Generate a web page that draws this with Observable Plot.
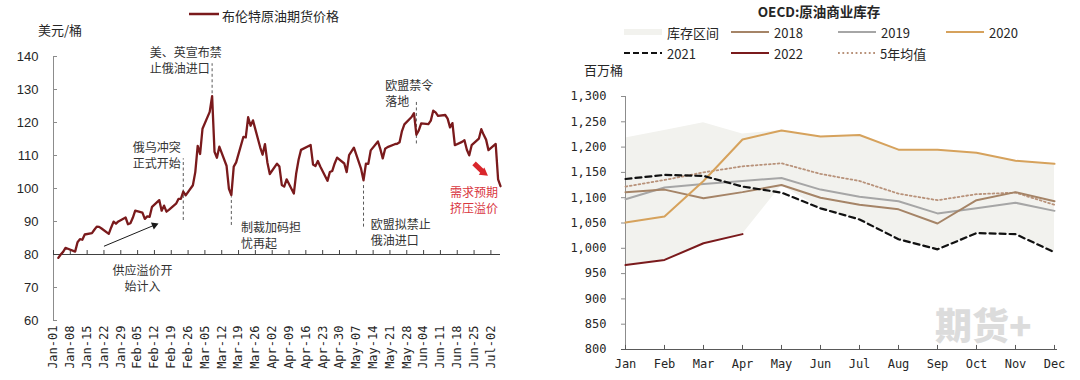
<!DOCTYPE html>
<html><head><meta charset="utf-8">
<script src="https://cdn.jsdelivr.net/npm/d3@7"></script>
<script src="https://cdn.jsdelivr.net/npm/@observablehq/plot@0.6"></script>
<style>
body{margin:0;background:#fff;}
#wrap{position:relative;width:1080px;height:380px;overflow:hidden;font-family:"Noto Sans CJK SC","Noto Sans",sans-serif;color:#262626;}
.abs{position:absolute;white-space:nowrap;line-height:1;}
.panel{position:absolute;top:0;}
</style></head><body><div id="wrap"></div>
<script>
// ---------- LEFT: Brent futures ----------
const year = 2022;
const priceDays = ["01-03","01-04","01-05","01-06","01-07","01-10","01-11","01-12","01-13","01-14","01-17","01-18","01-19","01-20","01-21","01-24","01-25","01-26","01-27","01-28","01-31",
"02-01","02-02","02-03","02-04","02-07","02-08","02-09","02-10","02-11","02-14","02-15","02-16","02-17","02-18","02-21","02-22","02-23","02-24","02-25","02-28",
"03-01","03-02","03-03","03-04","03-07","03-08","03-09","03-10","03-11","03-14","03-15","03-16","03-17","03-18","03-21","03-22","03-23","03-24","03-25","03-28","03-29","03-30","03-31",
"04-01","04-04","04-05","04-06","04-07","04-08","04-11","04-12","04-13","04-14","04-18","04-19","04-20","04-21","04-22","04-25","04-26","04-27","04-28","04-29",
"05-02","05-03","05-04","05-05","05-06","05-09","05-10","05-11","05-12","05-13","05-16","05-17","05-18","05-19","05-20","05-23","05-24","05-25","05-26","05-27","05-30","05-31",
"06-01","06-02","06-03","06-06","06-07","06-08","06-09","06-10","06-13","06-14","06-15","06-16","06-17","06-20","06-21","06-22","06-23","06-24","06-27","06-28","06-29","06-30",
"07-01","07-04","07-05","07-06"];
const brentPrice = [78.98,80.00,80.80,81.99,81.75,80.87,83.72,84.67,84.47,86.06,86.48,87.51,88.44,88.38,87.89,86.27,88.20,89.96,89.34,90.03,91.21,
89.16,89.47,91.11,93.27,92.69,90.78,91.55,91.41,94.44,96.48,93.28,94.81,92.97,93.54,95.39,96.84,96.84,99.08,97.93,100.99,
104.97,112.93,110.46,118.11,123.21,127.98,111.14,109.33,112.67,106.90,99.91,98.02,106.64,107.93,115.62,115.48,121.60,119.03,120.65,112.48,110.23,113.45,107.91,
104.39,107.53,106.64,101.07,100.58,102.78,98.48,104.64,108.78,111.70,113.16,107.25,106.80,108.33,106.65,102.32,104.99,105.32,107.59,109.34,
107.58,104.97,110.14,111.24,112.39,105.94,102.46,107.51,107.45,111.55,114.24,111.93,109.11,112.04,112.55,113.42,113.56,114.03,117.40,119.43,121.67,122.84,
116.29,117.61,119.72,119.51,120.57,123.58,123.07,122.01,122.27,121.17,118.51,119.81,113.12,114.13,114.65,111.74,110.05,113.12,115.09,117.98,116.26,114.81,
111.63,113.50,102.77,100.69];
const weekTickLabels = ["Jan-01","Jan-08","Jan-15","Jan-22","Jan-29","Feb-05","Feb-12","Feb-19","Feb-26","Mar-05","Mar-12","Mar-19","Mar-26","Apr-02","Apr-09","Apr-16","Apr-23","Apr-30","May-07","May-14","May-21","May-28","Jun-04","Jun-11","Jun-18","Jun-25","Jul-02"];
const leftYTicks = [60,70,80,90,100,110,120,130,140];
const leftStart = "01-01", leftEnd = "07-06";
const guideDays = ["02-24","03-08","03-16","05-10","06-01"];
const guideFrom = [90.3,128.7,88.8,88.3,113.5];
const guideTo   = [109,137.8,97.5,100.9,126.7];
const noteDays  = ["02-10","02-03","03-20","05-13","05-19","06-15","02-07"];
const noteValues= [138.9,110.3,85.9,86.9,129.0,96.5,73.0];
const noteTexts = ["美、英宣布禁\n止俄油进口","俄乌冲突\n正式开始","制裁加码担\n忧再起","欧盟拟禁止\n俄油进口","欧盟禁令\n落地","需求预期\n挤压溢价","供应溢价开\n始计入"];
const noteKinds = ["start","start","start","start","start","red","middle"];
const arrowFromDays = ["01-22","06-25"], arrowFromValues = [82.5,107.6];
const arrowToDays = ["02-12","06-29"], arrowToValues = [88.9,104.8];
const arrowColors = ["#1a1a1a","#d9262b"], arrowWidths = [1,5], arrowHeads = [3.6,5.2], arrowAngles = [67.7,126.9];

// ---------- RIGHT: OECD stocks ----------
const months = ["Jan","Feb","Mar","Apr","May","Jun","Jul","Aug","Sep","Oct","Nov","Dec"];
const bandHigh = [1218,1233,1248,1226,1233,1221,1224,1195,1195,1189,1173,1167];
const bandLow  = [967,977,1010,1028,1124,1079,1057,1018,998,1030,1028,992];
const stock2018 = [1111,1116,1099,1111,1125,1100,1086,1077,1049,1095,1111,1093];
const stock2019 = [1097,1120,1127,1133,1139,1116,1102,1093,1069,1079,1090,1074];
const stock2020 = [1051,1063,1133,1215,1233,1221,1224,1195,1195,1189,1173,1167];
const stock2021 = [1137,1145,1143,1122,1110,1079,1057,1018,998,1030,1028,992];
const stock2022 = [967,977,1010,1028];
const avg5yr    = [1122,1135,1150,1162,1168,1147,1133,1108,1095,1107,1110,1086];
const rightYTicks = [800,850,900,950,1000,1050,1100,1150,1200,1250,1300];

const C = {brent:"#7a1a1c", band:"#f2f2ee", y2018:"#a58467", y2019:"#a6a6a6", y2020:"#d6a25c", y2021:"#111111", y2022:"#7a1a1c", avg:"#b8927a", red:"#d9363e", axis:"#8c8c8c", dark:"#595959", text:"#262626"};

const wrap = document.getElementById("wrap");
const parseDay = s => new Date(`${year}-${s}T00:00:00Z`);

// left plot
const brent = priceDays.map((d,i)=>({date:parseDay(d), price:brentPrice[i]}));
const weekTicks = weekTickLabels.map(s => d3.utcParse("%Y-%b-%d")(year+"-"+s));
const guides = guideDays.map((d,i)=>({date:parseDay(d), from:guideFrom[i], to:guideTo[i]}));
const notes = noteDays.map((d,i)=>({date:parseDay(d), value:noteValues[i], text:noteTexts[i], kind:noteKinds[i]}));
const arrows = arrowFromDays.map((d,i)=>({x1:parseDay(d), y1:arrowFromValues[i], x2:parseDay(arrowToDays[i]), y2:arrowToValues[i], color:arrowColors[i], w:arrowWidths[i], r:arrowHeads[i], angle:arrowAngles[i]}));
const x0 = parseDay(leftStart), x1 = parseDay(leftEnd);
const LW = 540, LML = 53, LMR = 40;
const noteFont = {fontSize:12, lineHeight:1.33, fontFamily:"Noto Sans CJK SC"};

const left = Plot.plot({
  width:LW, height:380, marginLeft:LML, marginRight:LMR, marginTop:56, marginBottom:60,
  x:{type:"utc", domain:[x0,x1], label:null},
  y:{domain:[60,140], label:null},
  style:{background:"transparent", color:C.text, overflow:"visible"},
  marks:[
    Plot.ruleX([x0], {y1:60, y2:140, stroke:C.axis}),
    Plot.tickY(leftYTicks, {y:d=>d, insetRight:LW-LML-LMR-4, stroke:C.axis}),
    Plot.axisY({ticks:leftYTicks, tickSize:0, tickPadding:15, fontSize:13, fontFamily:"Liberation Sans, Arial, sans-serif"}),
    Plot.ruleY([80], {stroke:"#404040"}),
    Plot.ruleX(weekTicks, {x:d=>d, y1:80, y2:81.2, stroke:"#404040"}),
    Plot.axisX({ticks:weekTicks, tickFormat:d3.utcFormat("%b-%d"), tickRotate:-90, tickSize:0, tickPadding:5, fontSize:12, fontFamily:"DejaVu Sans Mono, monospace"}),
    Plot.ruleX(guides, {x:"date", y1:"from", y2:"to", stroke:C.dark, strokeDasharray:"3,2.5"}),
    Plot.line(brent, {x:"date", y:"price", stroke:C.brent, strokeWidth:2.3}),
    Plot.text(notes.filter(d=>d.kind==="start"), {x:"date", y:"value", text:"text", textAnchor:"start", fill:"#333", ...noteFont}),
    Plot.text(notes.filter(d=>d.kind==="middle"), {x:"date", y:"value", text:"text", textAnchor:"middle", fill:"#333", ...noteFont}),
    Plot.text(notes.filter(d=>d.kind==="red"), {x:"date", y:"value", text:"text", textAnchor:"start", fill:C.red, ...noteFont}),
    Plot.link(arrows, {x1:"x1", y1:"y1", x2:"x2", y2:"y2", stroke:"color", strokeWidth:"w"}),
    Plot.dot(arrows, {x:"x2", y:"y2", symbol:"triangle", r:"r", fill:"color", rotate:"angle", stroke:null})
  ]
});
left.classList.add("panel"); left.style.left = "0px";
wrap.appendChild(left);

// right plot
const bandRows = months.map((m,i)=>({month:m, lo:bandLow[i], hi:bandHigh[i]}));
const toRows = arr => arr.map((v,i)=>({month:months[i], value:v}));
const RW = 540, RML = 81, RMR = 23;
const monoFont = "DejaVu Sans Mono, monospace";
const right = Plot.plot({
  width:RW, height:380, marginLeft:RML, marginRight:RMR, marginTop:96, marginBottom:31,
  x:{type:"point", domain:months, padding:0, label:null},
  y:{domain:[800,1300], label:null},
  style:{background:"transparent", color:C.text, overflow:"visible"},
  marks:[
    Plot.areaY(bandRows, {x:"month", y1:"lo", y2:"hi", fill:C.band}),
    Plot.ruleX([months[0]], {y1:800, y2:1300, stroke:C.axis}),
    Plot.tickY(rightYTicks, {y:d=>d, insetRight:RW-RML-RMR-4, stroke:C.axis}),
    Plot.axisY({ticks:rightYTicks, tickFormat:d3.format(","), tickSize:0, tickPadding:15, fontSize:12, fontFamily:monoFont}),
    Plot.ruleY([800], {stroke:C.dark}),
    Plot.ruleX(months, {x:d=>d, y1:800, y2:808, stroke:C.dark}),
    Plot.axisX({tickSize:0, tickPadding:10, fontSize:12, fontFamily:monoFont}),
    Plot.line(toRows(avg5yr), {x:"month", y:"value", stroke:C.avg, strokeWidth:1.8, strokeDasharray:"1.8,2.6"}),
    Plot.line(toRows(stock2019), {x:"month", y:"value", stroke:C.y2019, strokeWidth:2}),
    Plot.line(toRows(stock2018), {x:"month", y:"value", stroke:C.y2018, strokeWidth:2}),
    Plot.line(toRows(stock2020), {x:"month", y:"value", stroke:C.y2020, strokeWidth:2}),
    Plot.line(toRows(stock2021), {x:"month", y:"value", stroke:C.y2021, strokeWidth:2.2, strokeDasharray:"6,4"}),
    Plot.line(toRows(stock2022), {x:"month", y:"value", stroke:C.y2022, strokeWidth:2})
  ]
});
right.classList.add("panel"); right.style.left = "540px";
wrap.appendChild(right);

// ---------- HTML texts ----------
function addText(txt, x, y, opts={}) {
  const el = document.createElement("div");
  el.className = "abs";
  el.textContent = txt;
  el.style.left = x+"px"; el.style.top = y+"px";
  el.style.fontSize = (opts.size||13)+"px";
  if (opts.weight) el.style.fontWeight = opts.weight;
  if (opts.color) el.style.color = opts.color;
  if (opts.family) el.style.fontFamily = opts.family;
  el.style.transform = `translate(${opts.center?"-50%":"0"},-50%)`;
  wrap.appendChild(el);
  return el;
}
function addSwatch(x, y, item) {
  const ns = "http://www.w3.org/2000/svg";
  const s = document.createElementNS(ns,"svg");
  s.setAttribute("width", item.w||38); s.setAttribute("height", 10);
  s.style.position="absolute"; s.style.left=x+"px"; s.style.top=(y-5)+"px";
  if (item.type==="band") {
    const r = document.createElementNS(ns,"rect");
    r.setAttribute("x",0); r.setAttribute("y",2); r.setAttribute("width",item.w||38); r.setAttribute("height",6); r.setAttribute("fill",item.color);
    s.appendChild(r);
  } else {
    const l = document.createElementNS(ns,"line");
    l.setAttribute("x1",0); l.setAttribute("x2",item.w||38); l.setAttribute("y1",5); l.setAttribute("y2",5);
    l.setAttribute("stroke",item.color); l.setAttribute("stroke-width",item.width||2.2);
    if (item.dash) l.setAttribute("stroke-dasharray",item.dash);
    s.appendChild(l);
  }
  wrap.appendChild(s);
}

// left legend & unit
addSwatch(189, 14, {type:"line", color:C.brent, w:30, width:2.5});
addText("布伦特原油期货价格", 222, 15, {size:13});
addText("美元/桶", 38, 29, {size:13});

// right title, legend, unit
addText("OECD:原油商业库存", 819, 12, {size:13.5, weight:"bold", center:true});
const legendItems = [
  {label:"库存区间", type:"band", color:C.band},
  {label:"2018", type:"line", color:C.y2018},
  {label:"2019", type:"line", color:C.y2019},
  {label:"2020", type:"line", color:C.y2020},
  {label:"2021", type:"line", color:C.y2021, dash:"6,3"},
  {label:"2022", type:"line", color:C.y2022},
  {label:"5年均值", type:"line", color:C.avg, dash:"1.8,2.6", width:1.8}
];
const legendCols = [624, 731, 838, 946], legendRows = [32, 53];
legendItems.forEach((it,i)=>{
  const row = i<4?0:1, col = i<4?i:i-4;
  const x = legendCols[col], y = legendRows[row];
  addSwatch(x, y, it);
  addText(it.label, x + (it.label==="5年均值"?42:43), y, {size:13});
});
addText("百万桶", 584, 69, {size:13});
const wm = addText("期货+", 935, 325, {size:37, weight:"900", color:"#dcdcdc"});
wm.style.lineHeight = "0.9";
</script></body></html>
